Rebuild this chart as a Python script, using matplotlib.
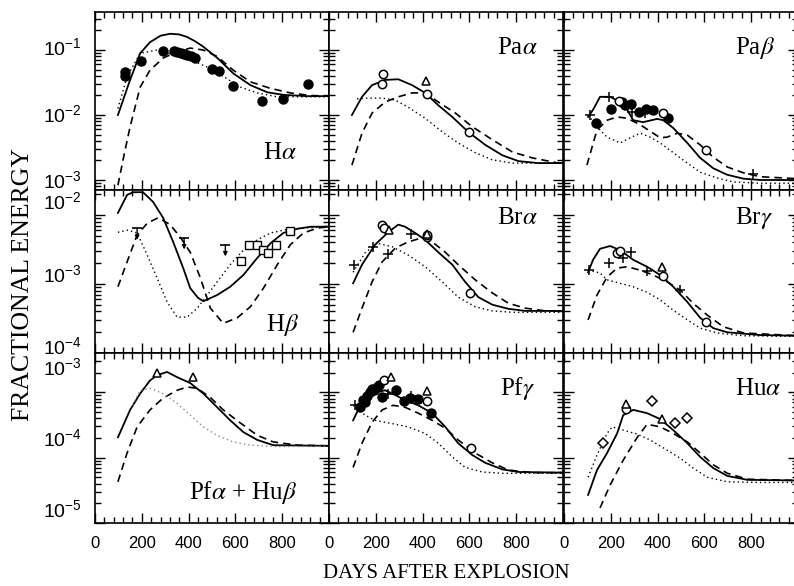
import numpy as np
import matplotlib
matplotlib.use('Agg')
import matplotlib.pyplot as plt
from matplotlib.ticker import LogLocator, MultipleLocator, NullFormatter, FixedLocator

plt.rcParams['font.family'] = ['Liberation Sans', 'DejaVu Sans']
plt.rcParams['mathtext.fontset'] = 'stix'

# ---------------- data: (days after explosion, log10 fractional energy) ----------------
# H alpha
HA_SOLID = [(98,-2.0),(146,-1.5),(193,-1.05),(235,-0.88),(280,-0.78),(321,-0.75),(360,-0.76),(394,-0.8),
            (430,-0.87),(463,-0.95),(522,-1.12),(591,-1.36),(664,-1.54),(736,-1.65),(805,-1.69),(908,-1.71),(1000,-1.71)]
HA_DASH = [(98,-3.08),(125,-2.6),(150,-2.18),(193,-1.57),(235,-1.31),(293,-1.12),(350,-1.03),(407,-0.97),
           (463,-1.0),(522,-1.1),(591,-1.31),(664,-1.49),(750,-1.59),(835,-1.66),(920,-1.7),(1000,-1.71)]
HA_DOT = [(98,-1.9),(137,-1.41),(193,-1.05),(265,-1.0),(336,-1.08),(407,-1.15),(478,-1.26),(550,-1.41),
          (621,-1.57),(693,-1.66),(778,-1.72),(1000,-1.72)]
HA_FILLED = [(128,-1.34),(128,-1.40),(197,-1.17),(291,-1.02),(338,-1.02),(352,-1.03),(366,-1.04),(380,-1.06),
             (395,-1.08),(410,-1.09),(428,-1.12),(501,-1.29),(531,-1.32),(591,-1.55),(715,-1.78),(805,-1.75),(912,-1.53)]

# Pa alpha
PAA_SOLID = [(98,-2.0),(141,-1.72),(184,-1.54),(240,-1.46),(296,-1.45),(355,-1.54),(411,-1.66),(467,-1.85),
             (527,-2.03),(595,-2.26),(668,-2.46),(741,-2.62),(810,-2.71),(895,-2.74),(1000,-2.74)]
PAA_DASH = [(98,-2.77),(141,-2.28),(184,-1.97),(240,-1.8),(296,-1.72),(355,-1.66),(411,-1.66),(467,-1.8),
            (540,-1.97),(612,-2.18),(698,-2.38),(784,-2.57),(869,-2.66),(981,-2.74),(1000,-2.74)]
PAA_DOT = [(120,-1.75),(167,-1.74),(227,-1.74),(283,-1.77),(338,-1.88),(411,-2.05),(484,-2.26),(552,-2.43),
           (625,-2.58),(698,-2.69),(784,-2.74),(1000,-2.74)]
PAA_OPEN = [(227,-1.52),(231,-1.37),(420,-1.68),(600,-2.26)]
PAA_TRI = [(415,-1.47)]

# Pa beta
PAB_SOLID = [(103,-2.03),(124,-1.92),(154,-1.72),(197,-1.72),(240,-1.8),(270,-1.92),(296,-2.08),(338,-2.11),
             (398,-2.06),(424,-2.08),(467,-2.2),(527,-2.43),(582,-2.66),(638,-2.82),(698,-2.92),(767,-2.98),
             (839,-3.0),(1000,-3.0)]
PAB_DASH = [(98,-2.77),(141,-2.23),(184,-2.08),(227,-2.03),(270,-2.05),(326,-2.15),(381,-2.28),(411,-2.35),
            (441,-2.34),(484,-2.28),(527,-2.31),(582,-2.46),(638,-2.65),(698,-2.8),(767,-2.89),(839,-2.95),(1000,-2.98)]
PAB_DOT = [(103,-2.0),(141,-2.18),(184,-2.34),(240,-2.43),(283,-2.35),(326,-2.28),(368,-2.34),(411,-2.43),
           (467,-2.58),(527,-2.74),(582,-2.88),(655,-2.97),(724,-3.03),(839,-3.05),(1000,-3.05)]
PAB_FILLED = [(137,-2.12),(201,-1.91),(248,-1.8),(261,-1.85),(287,-1.83),(321,-1.95),(351,-1.91),(381,-1.92),(445,-2.05)]
PAB_OPEN = [(235,-1.78),(424,-1.97),(608,-2.54)]
PAB_PLUS = [(111,-2.0),(193,-1.72),(291,-1.95),(347,-1.97),(809,-2.91)]

# H beta
HB_SOLID = [(98,-1.97),(137,-1.71),(163,-1.67),(205,-1.67),(248,-1.81),(291,-2.04),(334,-2.39),(377,-2.77),
            (407,-3.06),(440,-3.2),(463,-3.25),(522,-3.16),(578,-3.04),(634,-2.87),(694,-2.62),(750,-2.41),
            (805,-2.26),(865,-2.2),(921,-2.17),(1000,-2.17)]
HB_DASH = [(98,-3.04),(137,-2.68),(180,-2.29),(223,-2.12),(270,-2.04),(321,-2.14),(364,-2.32),(407,-2.54),
           (450,-2.91),(493,-3.35),(548,-3.57),(608,-3.49),(664,-3.33),(720,-3.06),(779,-2.72),(835,-2.43),
           (891,-2.26),(951,-2.19),(1000,-2.17)]
HB_DOT = [(98,-2.25),(141,-2.22),(180,-2.26),(223,-2.58),(265,-2.91),(308,-3.26),(351,-3.48),(394,-3.48),
          (437,-3.35),(480,-3.16),(522,-2.97),(578,-2.72),(634,-2.51),(694,-2.36),(750,-2.26),(835,-2.2),(1000,-2.17)]
HB_LIMIT = [(180,-2.19),(381,-2.33),(557,-2.43)]
HB_SQUARE = [(625,-2.67),(660,-2.43),(694,-2.43),(720,-2.51),(741,-2.55),(775,-2.43),(835,-2.23)]

# Br alpha
BRA_SOLID = [(103,-2.99),(141,-2.72),(197,-2.43),(253,-2.25),(296,-2.14),(325,-2.17),(368,-2.26),(411,-2.36),
             (467,-2.54),(527,-2.72),(582,-2.97),(638,-3.19),(698,-3.3),(767,-3.36),(839,-3.39),(1000,-3.39)]
BRA_DASH = [(103,-3.7),(141,-3.35),(184,-2.97),(227,-2.68),(283,-2.48),(338,-2.39),(398,-2.33),(441,-2.39),
            (497,-2.54),(552,-2.72),(625,-2.94),(698,-3.13),(767,-3.28),(839,-3.35),(925,-3.39),(1000,-3.39)]
BRA_DOT = [(103,-2.83),(154,-2.55),(206,-2.41),(270,-2.46),(338,-2.58),(411,-2.75),(484,-2.97),(552,-3.19),
           (625,-3.33),(698,-3.39),(784,-3.41),(1000,-3.41)]
BRA_OPEN = [(227,-2.14),(235,-2.19),(420,-2.32),(420,-2.29),(604,-3.13)]
BRA_TRI = [(257,-2.22),(420,-2.27)]
BRA_PLUS = [(107,-2.72),(188,-2.46),(253,-2.57),(351,-2.28)]

# Br gamma
BRG_SOLID = [(103,-2.83),(124,-2.65),(154,-2.49),(197,-2.45),(240,-2.51),(296,-2.65),(355,-2.75),(411,-2.87),
             (467,-3.04),(527,-3.26),(582,-3.49),(638,-3.64),(698,-3.7),(839,-3.74),(1000,-3.75)]
BRG_DASH = [(103,-3.52),(141,-3.16),(184,-2.9),(227,-2.77),(270,-2.75),(326,-2.8),(381,-2.87),(441,-2.97),
            (497,-3.09),(552,-3.28),(612,-3.45),(681,-3.62),(767,-3.71),(1000,-3.75)]
BRG_DOT = [(103,-2.8),(154,-2.84),(184,-2.94),(240,-2.99),(296,-3.04),(355,-3.12),(411,-3.23),(467,-3.38),
           (527,-3.52),(582,-3.64),(655,-3.71),(767,-3.75),(1000,-3.76)]
BRG_OPEN = [(227,-2.55),(240,-2.52),(424,-2.88),(608,-3.55)]
BRG_TRI = [(420,-2.75)]
BRG_PLUS = [(107,-2.8),(193,-2.7),(253,-2.62),(287,-2.54),(355,-2.81),(497,-3.09)]

# Pf alpha + Hu beta
PFA_SOLID = [(98,-3.69),(150,-3.27),(193,-3.02),(235,-2.82),(265,-2.74),(308,-2.69),(351,-2.77),(407,-2.86),
             (463,-3.02),(522,-3.23),(578,-3.43),(634,-3.61),(694,-3.73),(762,-3.81),(1000,-3.82)]
PFA_DASH = [(98,-4.37),(137,-3.93),(180,-3.53),(235,-3.27),(291,-3.09),(351,-2.97),(394,-2.92),(437,-2.94),
            (493,-3.08),(548,-3.27),(621,-3.47),(694,-3.66),(762,-3.76),(865,-3.81),(1000,-3.82)]
PFA_DOT = [(160,-3.2),(193,-2.97),(235,-2.94),(291,-3.02),(351,-3.17),(407,-3.35),(463,-3.53),(522,-3.66),
           (591,-3.76),(664,-3.81),(762,-3.83),(1000,-3.83)]
PFA_TRI = [(263,-2.71),(420,-2.76)]

# Pf gamma
PFG_SOLID = [(103,-3.43),(141,-3.15),(184,-3.02),(240,-2.97),(270,-3.02),(325,-3.12),(381,-3.2),(441,-3.32),
             (497,-3.53),(552,-3.78),(612,-3.96),(668,-4.08),(741,-4.18),(810,-4.22),(1000,-4.23)]
PFG_DASH = [(103,-4.15),(141,-3.78),(184,-3.46),(227,-3.27),(274,-3.2),(325,-3.23),(381,-3.32),(441,-3.43),
            (497,-3.55),(552,-3.73),(625,-3.93),(698,-4.08),(767,-4.19),(869,-4.23),(1000,-4.23)]
PFG_DOT = [(103,-3.2),(154,-3.35),(197,-3.43),(270,-3.48),(338,-3.53),(411,-3.63),(467,-3.78),(527,-3.99),
           (582,-4.15),(655,-4.22),(741,-4.24),(1000,-4.24)]
PFG_FILLED = [(133,-3.23),(145,-3.12),(154,-3.15),(163,-3.05),(176,-3.0),(185,-2.95),(193,-2.97),(206,-2.92),
              (214,-2.89),(227,-3.08),(287,-2.97),(321,-3.14),(347,-3.09),(381,-3.11),(437,-3.32)]
PFG_OPEN = [(235,-2.82),(420,-3.14),(608,-3.85)]
PFG_TRI = [(266,-2.76),(420,-2.98)]
PFG_PLUS = [(111,-3.2),(253,-3.02),(351,-3.06)]

# Hu alpha
HUA_SOLID = [(103,-4.57),(141,-4.19),(184,-3.93),(227,-3.63),(253,-3.35),(296,-3.27),(355,-3.32),(411,-3.41),
             (467,-3.58),(527,-3.78),(582,-3.99),(638,-4.16),(698,-4.28),(784,-4.34),(1000,-4.35)]
HUA_DASH = [(154,-4.77),(197,-4.42),(253,-4.04),(313,-3.69),(355,-3.49),(411,-3.53),(467,-3.63),(527,-3.76),
            (582,-3.93),(638,-4.11),(698,-4.24),(784,-4.33),(1000,-4.35)]
HUA_DOT = [(103,-4.3),(141,-3.96),(184,-3.63),(206,-3.53),(253,-3.58),(313,-3.64),(368,-3.73),(424,-3.85),
           (497,-4.01),(552,-4.16),(612,-4.3),(698,-4.37),(839,-4.38),(1000,-4.38)]
HUA_DIAMOND = [(167,-3.78),(377,-3.14),(475,-3.47),(527,-3.4)]
HUA_OPEN = [(266,-3.26)]
HUA_TRI = [(266,-3.18),(420,-3.41)]

LABELS = [r'H$\alpha$', r'Pa$\alpha$', r'Pa$\beta$',
          r'H$\beta$', r'Br$\alpha$', r'Br$\gamma$',
          r'Pf$\alpha$ + Hu$\beta$', r'Pf$\gamma$', r'Hu$\alpha$']
X_TICKS = [0, 200, 400, 600, 800]
ROW_EXPONENTS = [[-1, -2, -3], [-2, -3, -4], [-3, -4, -5]]

# ---------------- layout ----------------
W, H = 794, 586
COL_LEFT = [95, 329, 564]
COL_W = 234
ROW_TOP = [12, 190, 353]
ROW_BOT = [190, 353, 523]
ROW_YLIM = [(-3.154, -0.415), (-4.0, -1.638), (-5.0, -2.40)]
# vertical pixel centres of the left-hand exponent labels (as typeset in the original figure)
ROW_LABEL_PX = [[48, 115, 181], [202, 275, 347], [368, 439, 510]]
LABEL_POS = [(0.72, 0.21), (0.72, 0.80), (0.73, 0.80),
             (0.73, 0.17), (0.72, 0.83), (0.73, 0.83),
             (0.40, 0.18), (0.73, 0.79), (0.73, 0.79)]

panels = [
    dict(solid=HA_SOLID, dash=HA_DASH, dot=HA_DOT, filled=HA_FILLED),
    dict(solid=PAA_SOLID, dash=PAA_DASH, dot=PAA_DOT, open=PAA_OPEN, tri=PAA_TRI),
    dict(solid=PAB_SOLID, dash=PAB_DASH, dot=PAB_DOT, filled=PAB_FILLED, open=PAB_OPEN, plus=PAB_PLUS),
    dict(solid=HB_SOLID, dash=HB_DASH, dot=HB_DOT, limit=HB_LIMIT, square=HB_SQUARE),
    dict(solid=BRA_SOLID, dash=BRA_DASH, dot=BRA_DOT, open=BRA_OPEN, tri=BRA_TRI, plus=BRA_PLUS),
    dict(solid=BRG_SOLID, dash=BRG_DASH, dot=BRG_DOT, open=BRG_OPEN, tri=BRG_TRI, plus=BRG_PLUS),
    dict(solid=PFA_SOLID, dash=PFA_DASH, dot=PFA_DOT, tri=PFA_TRI, dotcolor='0.55'),
    dict(solid=PFG_SOLID, dash=PFG_DASH, dot=PFG_DOT, filled=PFG_FILLED, open=PFG_OPEN, tri=PFG_TRI, plus=PFG_PLUS),
    dict(solid=HUA_SOLID, dash=HUA_DASH, dot=HUA_DOT, diamond=HUA_DIAMOND, open=HUA_OPEN, tri=HUA_TRI),
]


def xy(pts):
    a = np.array(pts, dtype=float)
    return a[:, 0], 10.0 ** a[:, 1]


fig = plt.figure(figsize=(W / 100, H / 100), dpi=100)
fig.patch.set_facecolor('white')

for i, p in enumerate(panels):
    r, c = divmod(i, 3)
    left = COL_LEFT[c] / W
    bottom = 1 - ROW_BOT[r] / H
    height = (ROW_BOT[r] - ROW_TOP[r]) / H
    ax = fig.add_axes([left, bottom, COL_W / W, height])
    ax.set_yscale('log')
    ax.set_xlim(0, 1000)
    lo, hi = ROW_YLIM[r]
    ax.set_ylim(10 ** lo, 10 ** hi)

    x, y = xy(p['solid'])
    ax.plot(x, y, color='k', lw=1.3, solid_joinstyle='round', zorder=3)
    x, y = xy(p['dash'])
    ax.plot(x, y, color='k', lw=1.2, linestyle=(0, (4.5, 3.0)), zorder=3)
    x, y = xy(p['dot'])
    ax.plot(x, y, color=p.get('dotcolor', 'k'), lw=1.0, linestyle=(0, (1, 2.2)), zorder=3)

    if 'filled' in p:
        x, y = xy(p['filled'])
        ax.plot(x, y, 'o', ms=6.5, mfc='k', mec='k', zorder=4)
    if 'open' in p:
        x, y = xy(p['open'])
        ax.plot(x, y, 'o', ms=6, mfc='white', mec='k', mew=1.1, zorder=5)
    if 'tri' in p:
        x, y = xy(p['tri'])
        ax.plot(x, y, '^', ms=5.5, mfc='white', mec='k', mew=1.1, zorder=5)
    if 'plus' in p:
        x, y = xy(p['plus'])
        ax.plot(x, y, '+', ms=7, mec='k', mew=1.1, zorder=5)
    if 'square' in p:
        x, y = xy(p['square'])
        ax.plot(x, y, 's', ms=6, mfc='white', mec='k', mew=1.0, zorder=5)
    if 'diamond' in p:
        x, y = xy(p['diamond'])
        ax.plot(x, y, 'D', ms=5, mfc='white', mec='k', mew=1.1, zorder=5)
    if 'limit' in p:
        x, y = xy(p['limit'])
        ax.plot(x, y, '_', ms=7, mec='k', mew=1.2, zorder=5)
        for xi, yi in zip(x, y):
            ax.annotate('', xy=(xi, yi * 10 ** -0.17), xytext=(xi, yi),
                        arrowprops=dict(arrowstyle='-|>', lw=1.0, color='k',
                                        mutation_scale=6, shrinkA=0, shrinkB=0))

    ax.text(LABEL_POS[i][0], LABEL_POS[i][1], LABELS[i], transform=ax.transAxes,
            ha='left', va='center', fontsize=18, family='Liberation Serif')

    ax.xaxis.set_major_locator(FixedLocator(X_TICKS + [1000]))
    ax.xaxis.set_minor_locator(MultipleLocator(40))
    ax.yaxis.set_major_locator(LogLocator(base=10, subs=(1.0,), numticks=20))
    ax.yaxis.set_minor_locator(LogLocator(base=10, subs=np.arange(2, 10), numticks=20))
    ax.yaxis.set_minor_formatter(NullFormatter())
    ax.tick_params(which='both', direction='in', top=True, right=True, width=1.0, colors='k')
    ax.tick_params(which='major', length=7)
    ax.tick_params(which='minor', length=4)
    ax.tick_params(axis='x', labelsize=12, pad=9)
    ax.tick_params(axis='y', labelleft=False)
    for s in ax.spines.values():
        s.set_linewidth(1.2)

    if r == 2:
        ax.set_xticklabels([str(t) for t in X_TICKS] + [''])
    else:
        ax.tick_params(axis='x', labelbottom=False)

    if c == 0:
        for e, ypx in zip(ROW_EXPONENTS[r], ROW_LABEL_PX[r]):
            fig.text(82 / W, 1 - ypx / H, r'$\mathdefault{10^{%d}}$' % e, ha='right', va='center',
                     fontsize=14)

fig.text(446 / W, 1 - 574 / H, 'DAYS AFTER EXPLOSION', ha='center', va='center',
         fontsize=15, family='Liberation Serif')
fig.text(23 / W, 1 - 285 / H, 'FRACTIONAL ENERGY', ha='center', va='center', rotation=90,
         fontsize=18.5, family='Liberation Serif')

fig.savefig('out.png', dpi=100, facecolor='white')
